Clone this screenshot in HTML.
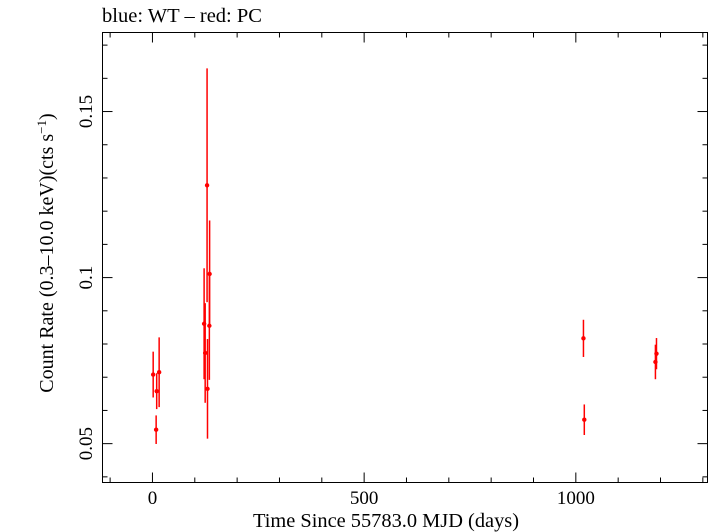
<!DOCTYPE html>
<html><head><meta charset="utf-8"><style>
body{margin:0;background:#fff;}
svg{display:block;font-family:"Liberation Serif",serif;}
</style></head><body>
<svg id="chart" width="709" height="532">
<text x="102" y="22" font-size="20" textLength="160" lengthAdjust="spacingAndGlyphs">blue: WT – red: PC</text>
<rect x="102.5" y="32.5" width="605" height="450" fill="none" stroke="#000" stroke-width="1"/>
<g id="ticks"></g>
<g id="marks"></g>
<text x="386" y="527" font-size="20" text-anchor="middle" textLength="266" lengthAdjust="spacingAndGlyphs">Time Since 55783.0 MJD (days)</text>
<text transform="translate(53,253) rotate(-90)" font-size="20" text-anchor="middle">Count Rate (0.3–10.0 keV)(cts s<tspan dy="-7" font-size="13">−1</tspan><tspan dy="7">)</tspan></text>
</svg>
<script>
const days=[1.7,8.7,10,15.8,122,124.5,129,130,134.4,135,1018,1020,1188,1190.5];
const rates=[0.0708,0.0542,0.0658,0.0715,0.0861,0.0773,0.1278,0.0665,0.0855,0.1011,0.0817,0.0572,0.0746,0.0771];
const errs=[0.0069,0.0043,0.0054,0.0105,0.0167,0.015,0.0352,0.015,0.0163,0.0161,0.0056,0.0046,0.0052,0.0047];
const xTicks=[0,500,1000];
const xTickLabels=["0","500","1000"];
const yTicks=[0.05,0.1,0.15];
const yTickLabels=["0.05","0.1","0.15"];
const NS="http://www.w3.org/2000/svg";
const X0=102.5,X1=707.5,Y0=482.5,Y1=32.5;
const xmin=-118,xmax=1311,ymin=0.0383,ymax=0.1738;
function sx(v){return X0+(v-xmin)/(xmax-xmin)*(X1-X0);}
function sy(v){return Y0-(v-ymin)/(ymax-ymin)*(Y0-Y1);}
function mk(tag,attrs,parent){const e=document.createElementNS(NS,tag);for(const k in attrs)e.setAttribute(k,attrs[k]);parent.appendChild(e);return e;}
const tg=document.getElementById('ticks');
for(let d=-100;d<=1300;d+=100){
  const maj=d%500===0;const L=maj?10:5;const x=sx(d);
  let t=mk('line',{x1:x,x2:x,y1:Y0,y2:Y0-L,stroke:'#000'},tg);
  
  
  t=mk('line',{x1:x,x2:x,y1:Y1,y2:Y1+L,stroke:'#000'},tg);
  
  
}
xTicks.forEach((v,i)=>{const t=mk('text',{x:sx(v),y:504,'font-size':19,'text-anchor':'middle'},tg);t.textContent=xTickLabels[i];
  
  });
for(let k=4;k<=17;k++){
  const v=k/100;const maj=k%5===0;const L=maj?10:5;const y=sy(v);
  let t=mk('line',{x1:X0,x2:X0+L,y1:y,y2:y,stroke:'#000'},tg);
  
  
  t=mk('line',{x1:X1,x2:X1-L,y1:y,y2:y,stroke:'#000'},tg);
  
  
}
yTicks.forEach((v,i)=>{const y=sy(v);const t=mk('text',{transform:`translate(92,${y}) rotate(-90)`,'font-size':19,'text-anchor':'middle'},tg);t.textContent=yTickLabels[i];
  
  });
const mg=document.getElementById('marks');
days.forEach((d,i)=>{
  const x=sx(d);
  const l=mk('line',{x1:x,x2:x,y1:sy(rates[i]-errs[i]),y2:sy(rates[i]+errs[i]),stroke:'#f00','stroke-width':1.5},mg);
  
  
  const c=mk('circle',{cx:x,cy:sy(rates[i]),r:2.2,fill:'#f00'},mg);
  
  
});
</script>
</body></html>
